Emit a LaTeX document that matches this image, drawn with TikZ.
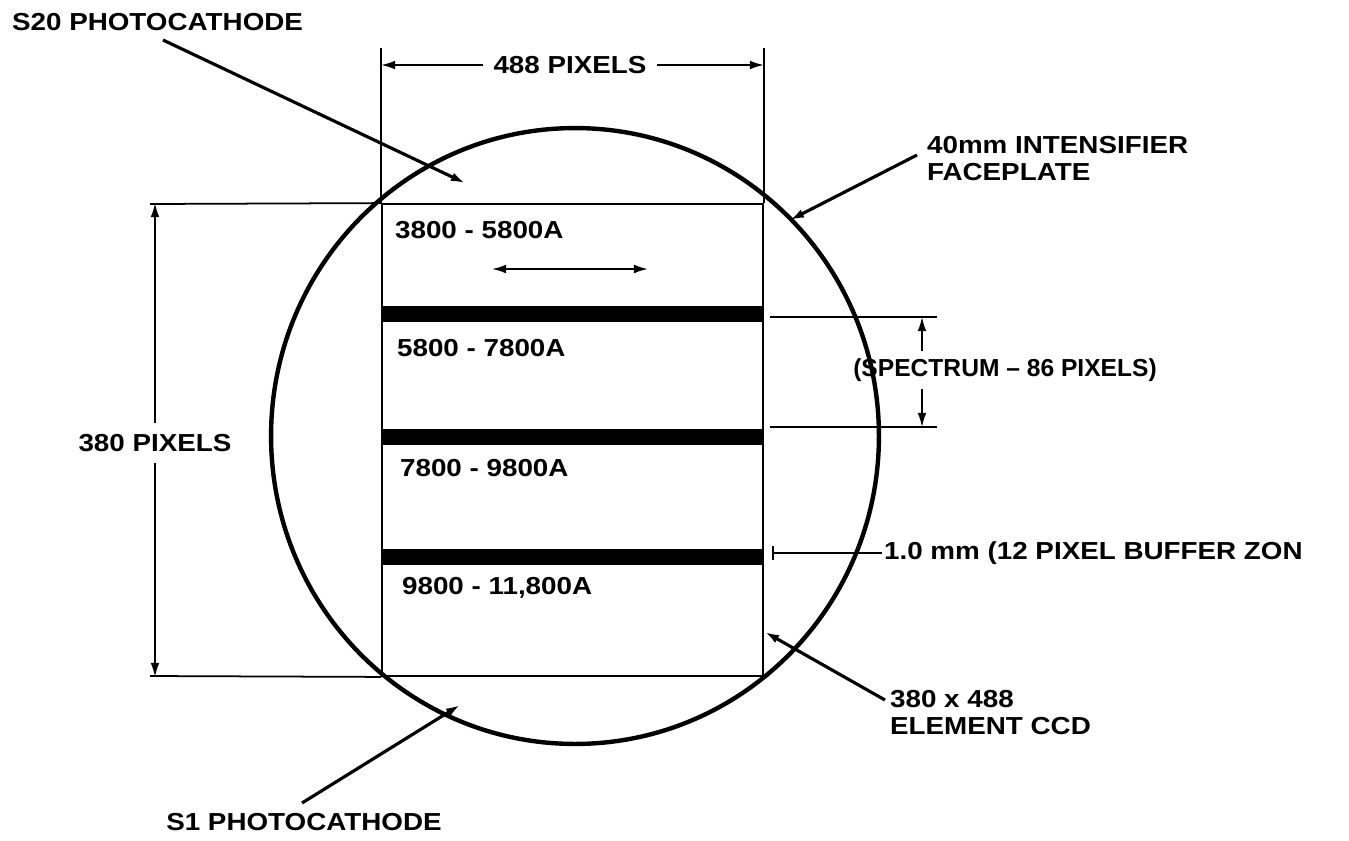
\documentclass[tikz,border=0pt]{standalone}
\usepackage{fontspec}
\newfontfamily\lblfont[FakeStretch=1.13,Ligatures=TeX]{Liberation Sans Bold}
\newfontfamily\narrowfont[Ligatures=TeX]{Liberation Sans Bold}
\usetikzlibrary{arrows.meta,positioning,calc}

\begin{document}
\begin{tikzpicture}[x=0.02cm,y=-0.02cm,>={Latex[length=8pt,width=5pt]}]
\tikzstyle{lbl}=[font=\lblfont\fontsize{14}{15.5}\selectfont,inner sep=1pt]
\tikzstyle{dimlbl}=[lbl,inner sep=6pt]
\tikzstyle{dim}=[line width=1pt]
\tikzstyle{lead}=[line width=1.8pt]
\useasboundingbox (0,0) rectangle (1349,840);
% faceplate and CCD
\draw[line width=2.5pt] (575,436) ellipse [x radius=6.08cm,y radius=6.16cm];
\node[draw,line width=1.1pt,minimum width=7.62cm,minimum height=9.44cm,inner sep=0pt] (ccd) at (572.5,440) {};
\foreach \yb in {314,437,557}
  \fill (382,{\yb-8}) rectangle (763,{\yb+8});
% band labels
\node[lbl,anchor=west] (b1) at (393,230) {3800 - 5800A};
\node[lbl,anchor=west] (b2) at (395,348) {5800 - 7800A};
\node[lbl,anchor=west] (b3) at (398,468) {7800 - 9800A};
\node[lbl,anchor=west] (b4) at (400,588) {9800 - 11,800A};
\coordinate (dl) at (492,269);
\coordinate (dr) at (648,269);
\draw[dim,<->] (dl) -- (dr);
% width
\node[dimlbl] (w488) at (570,65) {488 PIXELS};
\draw[dim] (ccd.north west) -- (ccd.north west |- 0,48);
\draw[dim] (ccd.north east) -- (ccd.north east |- 0,48);
\draw[dim,->] (w488) -- (w488 -| ccd.west);
\draw[dim,->] (w488) -- (w488 -| ccd.east);
% height
\node[dimlbl] (h380) at (155,443) {380 PIXELS};
\draw[dim] (ccd.north west) -- (150,204);
\draw[dim] (ccd.south west) -- (150,676);
\draw[dim,->] (h380) -- (h380 |- ccd.north);
\draw[dim,->] (h380) -- (h380 |- ccd.south);
% spectrum
\coordinate (sa) at (922,317);
\coordinate (sb) at (922,427);
\draw[dim] (770,317) -- (937,317);
\draw[dim] (770,427) -- (937,427);
\node[lbl,inner sep=4pt,font=\narrowfont\fontsize{14}{15.5}\selectfont] (spec) at (1005,370) {(SPECTRUM -- 86 PIXELS)};
\draw[dim,->] (spec.north -| sa) -- (sa);
\draw[dim,->] (spec.south -| sb) -- (sb);
% buffer zone
\coordinate (bz) at (772,553);
\node[lbl,anchor=west] (buf) at (882,553) {1.0 mm (12 PIXEL BUFFER ZON};
\draw[dim,{Bar[width=8pt]}-] (bz) -- (buf.west);
% leaders
\node[lbl,anchor=west] (s20) at (10,22) {S20 PHOTOCATHODE};
\coordinate (s20s) at (163,40);
\coordinate (s20t) at (465,183);
\draw[lead,->] (s20s) -- (s20t);
\node[lbl,anchor=north west,align=left] (fp) at (925,134) {40mm INTENSIFIER\\FACEPLATE};
\coordinate (fps) at (917,155);
\coordinate (fpt) at (790,220);
\draw[lead,->] (fps) -- (fpt);
\node[lbl,anchor=north west,align=left] (el) at (888,688) {380 x 488\\ELEMENT CCD};
\coordinate (els) at (885,700);
\coordinate (elt) at (765,632);
\draw[lead,->] (els) -- (elt);
\node[lbl] (s1) at (304,822) {S1 PHOTOCATHODE};
\coordinate (s1s) at (302,803);
\coordinate (s1t) at (460,705);
\draw[lead,->] (s1s) -- (s1t);
\end{tikzpicture}
\end{document}
